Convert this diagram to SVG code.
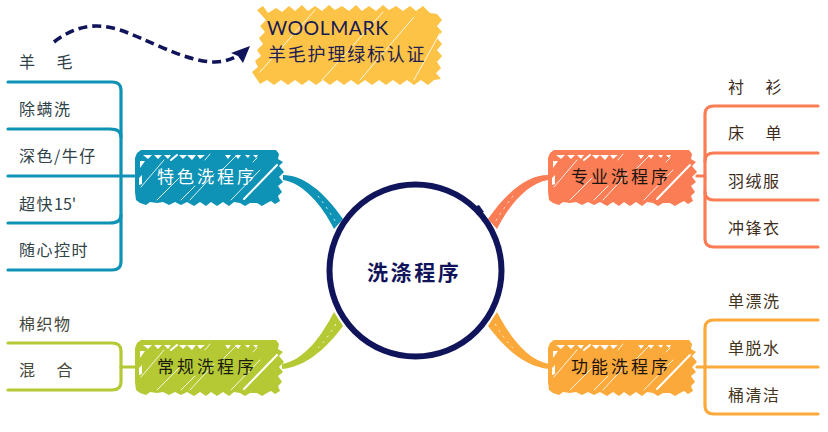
<svg xmlns="http://www.w3.org/2000/svg" width="828" height="432" viewBox="0 0 828 432">
<style>
text{font-family:"Noto Sans CJK SC","Noto Sans",sans-serif}
.lb{font-size:16px;letter-spacing:1.5px;word-spacing:15px}
.nt{font-size:17px;letter-spacing:3px}
.hatch{fill:none;stroke:#fff;stroke-width:1;stroke-linecap:round;stroke-opacity:.85}
.thick{fill:none;stroke:#fff;stroke-width:2;stroke-linecap:round}
.br{fill:none;stroke-width:3.2;stroke-linecap:round;stroke-linejoin:round}
.tick{fill:none;stroke:#fff;stroke-width:.9;stroke-dasharray:2 5}
</style>
<defs>
<symbol id="card" width="150" height="58" viewBox="0 0 150 58" overflow="visible">
<path fill="currentColor" d="M6 0H141L144 4L143 9L148 12L144 16L149 22L144 27L148 32L143 36L147 42L143 46L145 51L140 54L136 51L132 53L127 56L122 53H115L110 56L105 53L99 52L94 56L88 52L82 56L76 52L71 56L65 52L59 56L52 52L46 55L40 52L34 55L28 52L22 53L15 52L11 55L5 53L1 50L0 42V8L2 3Z"/>
<path fill="#fff" d="M8 5h9l-4 4zM19 5h8l-4 4zM29 5h7l-3 4zM44 5h8l-4 4zM52 5h9l-4 5zM62 5h8l-5 4zM90 5h6l-3 4zM100 5h6l-3 4zM110 5h5l-2 3zM118 5h5l-2 3z"/>
<path fill="#fff" d="M5 11h5l-5 7zM4 28l3-3v9l-3 1z"/>
<path class="hatch" d="M6 37L29 10M22 50L44 28M46 50L60 36M55 50L79 24M70 10L75 4M87 20L102 5M96 50L125 20M118 12L122 8"/>
<path class="thick" d="M109 49L142 15M36 10L42 5"/>
</symbol>
</defs>

<g id="connectors">
<path fill="#0e93b6" d="M283 175C302 175 323 190 343 219L334 229C322 205 303 183 283 180Z"/>
<path fill="#fa7d55" d="M548 175C529 175 508 190 488 219L497 229C509 205 528 183 548 180Z"/>
<path fill="#b5c934" d="M282 369C305 367 325 350 343 326L334 312C322 335 305 360 282 364Z"/>
<path fill="#fba93a" d="M549 369C526 367 506 350 488 326L497 312C509 335 526 360 549 364Z"/>
<path class="tick" d="M318 196Q328 209 337 224M513 196Q503 209 494 224M318 348Q329 337 338 320M513 348Q502 337 493 320"/>

<g class="br" stroke="#0e93b6">
<path d="M8 82H112Q121 82 121 90V262Q121 270 112 270H8"/>
<path d="M8 129H110Q121 129 121 137"/>
<path d="M8 176H135"/>
<path d="M8 223H110Q121 223 121 215"/>
</g>
<g class="br" stroke="#b5c934">
<path d="M8 343H112Q121 343 121 351V382Q121 390 112 390H8"/>
<path d="M121 367H135"/>
</g>
<g class="br" stroke="#fa7d55">
<path d="M818 106H714Q705 106 705 114V239Q705 247 714 247H818"/>
<path d="M818 153H714Q705 153 705 161"/>
<path d="M818 200H714Q705 200 705 192"/>
<path d="M697 176H705"/>
</g>
<g class="br" stroke="#fba93a">
<path d="M818 320H714Q705 320 705 328V406Q705 414 714 414H818"/>
<path d="M818 367H697"/>
</g>
<path fill="none" stroke="#10145a" stroke-width="3.6" stroke-dasharray="9 5" d="M54 42C75 26 95 22 120 30S185 62 215 62C225 62 231 59 240 55"/>
<path fill="#10145a" d="M250 46L243 63L238 56L231 53Z"/>
</g>

<g id="note">
<path fill="#fdc347" d="M257 10L263 6L268 13L276 8L282 12L289 6L295 11L302 5L308 11L315 6L322 11L329 5L335 10L342 6L349 11L356 5L362 11L369 6L376 11L383 5L389 10L396 6L403 11L410 6L416 11L423 6L430 13L437 14L442 20L437 26L442 32L437 38L442 44L437 50L442 56L437 62L441 68L436 73L441 79L434 80L428 85L421 80L414 85L407 80L400 85L393 80L386 85L379 80L372 85L365 80L358 85L351 80L344 85L337 80L330 85L323 80L316 85L309 80L302 85L295 80L288 85L281 80L274 85L267 80L260 84L252 72L258 67L255 61L261 56L257 50L263 44L259 38L265 32L260 26L266 20Z"/>
<path class="hatch" stroke-width="1.4" d="M260 72L315 10M322 80L383 12M360 80L414 17M414 80L440 33"/>
<text x="267" y="35" font-size="19.5" fill="#161a55" style="font-family:Lato,sans-serif" letter-spacing="0.5">WOOLMARK</text>
<text x="268" y="61" font-size="18" letter-spacing="1.8" fill="#1f2050">羊毛护理绿标认证</text>
</g>

<g id="center">
<circle cx="415.5" cy="270.5" r="86" fill="#fff" stroke="#10145a" stroke-width="6"/>
<path fill="#10145a" d="M474 207L479 205L484 212L477 215Z"/>
<text x="367" y="280" font-size="21" font-weight="700" letter-spacing="2.6" fill="#10145a">洗涤程序</text>
</g>

<g id="node-special">
<use href="#card" x="135" y="150" width="150" height="58" color="#0e93b6"/>
<text class="nt" x="157" y="183" fill="#fff">特色洗程序</text>
</g>
<g id="node-regular">
<use href="#card" x="135" y="340" width="150" height="58" color="#b5c934"/>
<text class="nt" x="157" y="373" fill="#1a1c10">常规洗程序</text>
</g>
<g id="node-pro">
<use href="#card" x="548" y="150" width="150" height="58" color="#fa7d55"/>
<text class="nt" x="571" y="183" fill="#1c1410">专业洗程序</text>
</g>
<g id="node-function">
<use href="#card" x="548" y="340" width="150" height="58" color="#fba93a"/>
<text class="nt" x="571" y="373" fill="#1c1410">功能洗程序</text>
</g>

<g id="labels-special" fill="#2f4248">
<text class="lb" x="19" y="68">羊 毛</text>
<text class="lb" x="19" y="115">除螨洗</text>
<text class="lb" x="19" y="162">深色/牛仔</text>
<text class="lb" x="19" y="210">超快<tspan letter-spacing="0">15'</tspan></text>
<text class="lb" x="19" y="256">随心控时</text>
</g>
<g id="labels-regular" fill="#43473a">
<text class="lb" x="19" y="330">棉织物</text>
<text class="lb" x="19" y="376">混 合</text>
</g>
<g id="labels-pro" fill="#402c1c">
<text class="lb" x="728" y="93">衬 衫</text>
<text class="lb" x="728" y="139">床 单</text>
<text class="lb" x="728" y="187">羽绒服</text>
<text class="lb" x="728" y="234">冲锋衣</text>
</g>
<g id="labels-function" fill="#43341c">
<text class="lb" x="728" y="307">单漂洗</text>
<text class="lb" x="728" y="354">单脱水</text>
<text class="lb" x="728" y="401">桶清洁</text>
</g>
</svg>
